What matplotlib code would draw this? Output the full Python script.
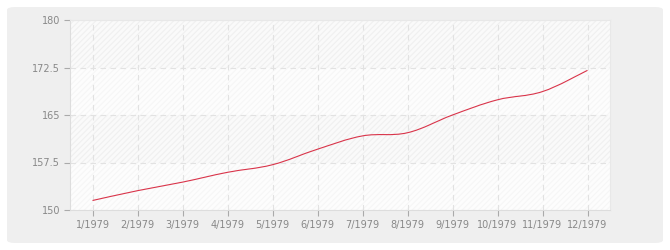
import matplotlib
matplotlib.use('Agg')
import matplotlib.pyplot as plt
from matplotlib.patches import FancyBboxPatch, Rectangle, PathPatch
from matplotlib.path import Path
import numpy as np

months = ['1/1979', '2/1979', '3/1979', '4/1979', '5/1979', '6/1979',
          '7/1979', '8/1979', '9/1979', '10/1979', '11/1979', '12/1979']
values = [151.5, 153.05, 154.4, 155.95, 157.15, 159.6,
          161.7, 162.2, 165.0, 167.4, 168.7, 172.05]
yticks = [150, 157.5, 165, 172.5, 180]
ytick_labels = ['150', '157.5', '165', '172.5', '180']

plt.rcParams['hatch.linewidth'] = 0.8

fig = plt.figure(figsize=(6.7, 2.5), dpi=100)
fig.patch.set_facecolor('white')
bg = FancyBboxPatch((7 / 670, 7 / 250), 656 / 670, 236 / 250,
                    boxstyle='round,pad=0,rounding_size=0.012',
                    transform=fig.transFigure, facecolor='#efefef',
                    edgecolor='none', zorder=-5)
fig.patches.append(bg)

ax = fig.add_axes([70 / 670, 40 / 250, 540 / 670, 190 / 250])
ax.set_facecolor('#fbfbfb')
ax.set_xlim(-0.5, len(months) - 0.5)
ax.set_ylim(150, 180)

# alternating bands
for i in range(len(yticks) - 1):
    lo, hi = yticks[i], yticks[i + 1]
    fc = '#fdfdfd' if i % 2 == 0 else '#fafafa'
    ax.add_patch(Rectangle((-0.5, lo), len(months), hi - lo, facecolor=fc,
                           edgecolor='none', zorder=0))
    ax.add_patch(Rectangle((-0.5, lo), len(months), hi - lo, facecolor='none',
                           hatch='//////', edgecolor='#f0f0f0' if i % 2 else '#f6f6f6',
                           linewidth=0, zorder=0.5))

x = np.arange(len(months))
y = np.array(values)

# smooth curve through the points (cardinal spline as bezier)
verts = [(x[0], y[0])]
codes = [Path.MOVETO]
t = 0.18
for i in range(len(x) - 1):
    p0 = (x[i - 1], y[i - 1]) if i > 0 else (x[i], y[i])
    p1 = (x[i], y[i])
    p2 = (x[i + 1], y[i + 1])
    p3 = (x[i + 2], y[i + 2]) if i + 2 < len(x) else p2
    c1 = (p1[0] + (p2[0] - p0[0]) * t, p1[1] + (p2[1] - p0[1]) * t)
    c2 = (p2[0] - (p3[0] - p1[0]) * t, p2[1] - (p3[1] - p1[1]) * t)
    verts += [c1, c2, p2]
    codes += [Path.CURVE4] * 3
ax.add_patch(PathPatch(Path(verts, codes), facecolor='none',
                       edgecolor='#d9344a', linewidth=0.8, zorder=3))

ax.set_xticks(x)
ax.set_xticklabels(months)
ax.set_yticks(yticks)
ax.set_yticklabels(ytick_labels)
ax.grid(True, color='#e2e2e2', linestyle=(0, (5, 4)), linewidth=0.8, zorder=1)
ax.set_axisbelow(True)

for s in ['top', 'right']:
    ax.spines[s].set_color('#e8e8e8')
    ax.spines[s].set_linewidth(0.8)
for s in ['left', 'bottom']:
    ax.spines[s].set_color('#dddddd')
    ax.spines[s].set_linewidth(0.8)

ax.tick_params(axis='both', colors='#aaaaaa', length=4, width=0.8,
               labelsize=7, labelcolor='#888888', pad=3)

fig.savefig('out.png', dpi=100, facecolor='white')
